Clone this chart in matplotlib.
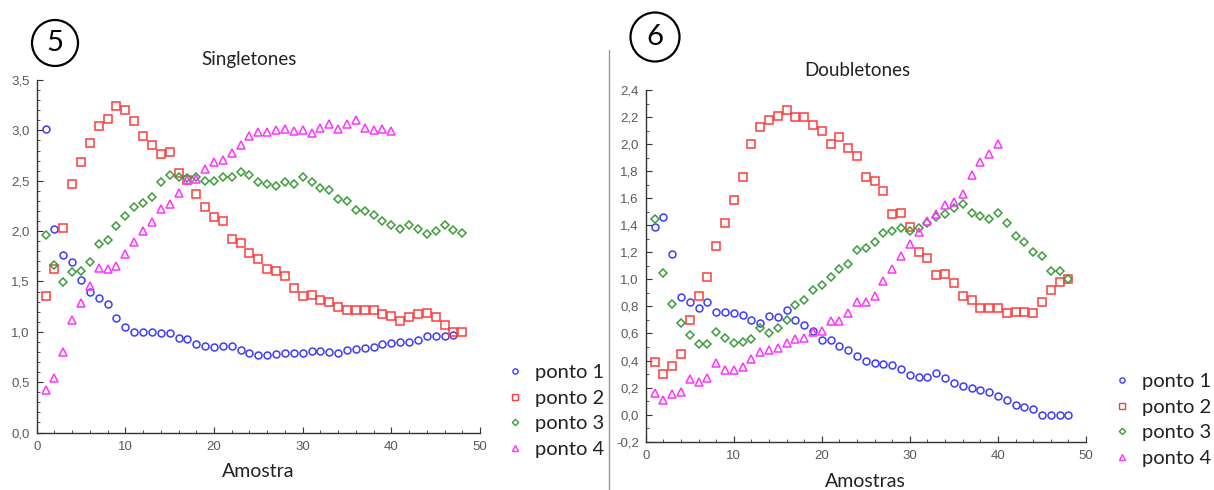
import matplotlib
matplotlib.use("Agg")
import matplotlib.pyplot as plt
from matplotlib.ticker import MultipleLocator, FuncFormatter
from matplotlib.patches import Circle
from matplotlib.lines import Line2D

# ---------------- data ----------------
series_labels = ["ponto 1", "ponto 2", "ponto 3", "ponto 4"]

# Singletones (left panel)
sing_p1 = [3.01, 2.02, 1.76, 1.69, 1.51, 1.40, 1.34, 1.28, 1.14, 1.05,
           1.00, 1.00, 1.00, 0.99, 0.99, 0.94, 0.93, 0.88, 0.86, 0.85,
           0.86, 0.86, 0.82, 0.79, 0.77, 0.77, 0.78, 0.79, 0.79, 0.79,
           0.81, 0.81, 0.80, 0.79, 0.82, 0.83, 0.84, 0.85, 0.88, 0.89,
           0.90, 0.90, 0.92, 0.96, 0.96, 0.96, 0.97]
sing_p2 = [1.36, 1.62, 2.03, 2.47, 2.69, 2.87, 3.04, 3.11, 3.24, 3.20,
           3.09, 2.94, 2.85, 2.77, 2.79, 2.58, 2.51, 2.37, 2.24, 2.14,
           2.10, 1.92, 1.88, 1.78, 1.72, 1.62, 1.60, 1.55, 1.43, 1.36,
           1.37, 1.32, 1.30, 1.25, 1.22, 1.22, 1.22, 1.22, 1.18, 1.16,
           1.11, 1.15, 1.18, 1.19, 1.15, 1.07, 1.00, 1.00]
sing_p3 = [1.96, 1.66, 1.49, 1.59, 1.60, 1.69, 1.87, 1.91, 2.05, 2.15,
           2.24, 2.28, 2.34, 2.49, 2.56, 2.54, 2.53, 2.54, 2.50, 2.50,
           2.54, 2.54, 2.59, 2.56, 2.49, 2.47, 2.45, 2.49, 2.47, 2.54,
           2.49, 2.43, 2.41, 2.32, 2.30, 2.21, 2.20, 2.16, 2.10, 2.06,
           2.02, 2.06, 2.02, 1.97, 2.00, 2.06, 2.01, 1.98]
sing_p4 = [0.42, 0.54, 0.80, 1.12, 1.29, 1.45, 1.63, 1.62, 1.65, 1.77,
           1.89, 2.00, 2.09, 2.22, 2.27, 2.38, 2.51, 2.52, 2.62, 2.69,
           2.71, 2.78, 2.85, 2.94, 2.98, 2.98, 3.00, 3.01, 2.99, 3.00,
           2.97, 3.02, 3.06, 3.01, 3.06, 3.10, 3.02, 3.00, 3.01, 2.99]

# Doubletones (right panel)
doub_p1 = [1.39, 1.46, 1.19, 0.87, 0.83, 0.785, 0.83, 0.76, 0.76, 0.755,
           0.74, 0.70, 0.68, 0.73, 0.72, 0.77, 0.70, 0.66, 0.62, 0.55,
           0.55, 0.51, 0.48, 0.43, 0.40, 0.38, 0.375, 0.365, 0.34, 0.29,
           0.28, 0.28, 0.305, 0.27, 0.235, 0.21, 0.20, 0.18, 0.17, 0.14,
           0.11, 0.07, 0.055, 0.04, 0.0, 0.0, 0.0, 0.0]
doub_p2 = [0.39, 0.30, 0.36, 0.45, 0.70, 0.88, 1.02, 1.25, 1.42, 1.59,
           1.76, 2.00, 2.13, 2.18, 2.21, 2.25, 2.20, 2.20, 2.14, 2.10,
           2.00, 2.05, 1.97, 1.91, 1.76, 1.73, 1.65, 1.48, 1.49, 1.39,
           1.20, 1.16, 1.03, 1.04, 0.97, 0.88, 0.85, 0.79, 0.785, 0.785,
           0.755, 0.76, 0.76, 0.755, 0.83, 0.925, 0.98, 1.00]
doub_p3 = [1.45, 1.05, 0.82, 0.68, 0.59, 0.52, 0.52, 0.61, 0.57, 0.53,
           0.54, 0.56, 0.64, 0.60, 0.64, 0.70, 0.81, 0.85, 0.92, 0.96,
           1.02, 1.08, 1.11, 1.22, 1.23, 1.28, 1.34, 1.36, 1.38, 1.36,
           1.38, 1.42, 1.46, 1.48, 1.53, 1.56, 1.49, 1.47, 1.45, 1.49,
           1.42, 1.32, 1.28, 1.20, 1.17, 1.06, 1.06, 1.00]
doub_p4 = [0.16, 0.11, 0.15, 0.17, 0.26, 0.24, 0.27, 0.38, 0.33, 0.33,
           0.35, 0.41, 0.46, 0.48, 0.49, 0.53, 0.56, 0.57, 0.61, 0.62,
           0.69, 0.69, 0.755, 0.83, 0.83, 0.88, 0.99, 1.08, 1.17, 1.26,
           1.35, 1.43, 1.48, 1.55, 1.57, 1.63, 1.77, 1.87, 1.93, 2.00]

# ---------------- style ----------------
colors = ["#3c3cff", "#ff3c3c", "#3c9c3c", "#ff33ff"]
markers = ["o", "s", "D", "^"]
msizes = [5.0, 6.0, 4.3, 6.0]
TXT = ["Lato", "DejaVu Sans"]
TICKF = ["Liberation Sans", "DejaVu Sans"]

W, H = 1214, 490
fig = plt.figure(figsize=(W / 100, H / 100), dpi=100)


def fx(px):
    return px / W


def fy(py):
    return 1 - py / H


def comma(v, pos):
    s = f"{v:.1f}".replace(".", ",")
    if s == "-0,0":
        s = "0,0"
    return s


def style_axes(ax, ymaj, ymin):
    for s in ("top", "right"):
        ax.spines[s].set_visible(False)
    for s in ("left", "bottom"):
        ax.spines[s].set_color("#333333")
        ax.spines[s].set_linewidth(1.0)
    ax.xaxis.set_major_locator(MultipleLocator(10))
    ax.xaxis.set_minor_locator(MultipleLocator(2))
    ax.yaxis.set_major_locator(MultipleLocator(ymaj))
    ax.yaxis.set_minor_locator(MultipleLocator(ymin))
    ax.yaxis.set_major_formatter(FuncFormatter(comma))
    ax.tick_params(which="both", direction="in", colors="#333333",
                   labelcolor="#5a5a5a", labelsize=9.5)
    ax.tick_params(which="major", length=4, width=0.8)
    ax.tick_params(which="minor", length=2.5, width=0.6)
    ax.tick_params(axis="x", pad=6)
    ax.tick_params(axis="y", pad=5)
    for lab in ax.get_xticklabels() + ax.get_yticklabels():
        lab.set_family(TICKF)


def plot_panel(ax, data):
    handles = []
    for vals, c, m, ms, lab in zip(data, colors, markers, msizes, series_labels):
        xs = list(range(1, len(vals) + 1))
        ax.plot(xs, vals, linestyle="none", marker=m, markersize=ms,
                markerfacecolor="none", markeredgecolor=c, markeredgewidth=1.1,
                label=lab, clip_on=False)
        handles.append(Line2D([], [], linestyle="none", marker=m,
                              markersize=ms * 0.75, markerfacecolor="none",
                              markeredgecolor=c, markeredgewidth=1.0))
    return handles


# ---- left panel ----
axL = fig.add_axes([fx(36.7), fy(432.5), fx(480 - 36.7), (432.5 - 80) / H])
hL = plot_panel(axL, [sing_p1, sing_p2, sing_p3, sing_p4])
axL.set_xlim(0, 50)
axL.set_ylim(0, 3.5)
style_axes(axL, 0.5, 0.1)

# ---- right panel ----
axR = fig.add_axes([fx(645.7), fy(441.7), fx(1086 - 645.7), (441.7 - 90) / H])
hR = plot_panel(axR, [doub_p1, doub_p2, doub_p3, doub_p4])
axR.set_xlim(0, 50)
axR.set_ylim(-0.2, 2.4)
style_axes(axR, 0.2, 0.1)

# titles and axis labels
fig.text(fx(249), fy(60), "Singletones", ha="center", va="center",
         fontsize=13.5, family=TXT, color="#222222")
fig.text(fx(857), fy(70), "Doubletones", ha="center", va="center",
         fontsize=13.5, family=TXT, color="#222222")
fig.text(fx(258), fy(471), "Amostra", ha="center", va="center",
         fontsize=14, family=TXT, color="#222222")
fig.text(fx(865), fy(481), "Amostras", ha="center", va="center",
         fontsize=14, family=TXT, color="#222222")

# legends
legkw = dict(frameon=False, handlelength=0.8, handletextpad=0.6,
             labelspacing=0.42, borderpad=0, borderaxespad=0,
             prop={"family": TXT, "size": 14.5})
legL = fig.legend(hL, series_labels, loc="upper left",
                  bbox_to_anchor=(fx(507), fy(364)), **legkw)
legR = fig.legend(hR, series_labels, loc="upper left",
                  bbox_to_anchor=(fx(1114), fy(373)), **legkw)
for leg in (legL, legR):
    for t in leg.get_texts():
        t.set_color("#222222")

# separator line
fig.add_artist(Line2D([fx(609), fx(609)], [fy(50), fy(490)],
                      color="#999999", linewidth=1.0))

# numbered circles
for cx, cy, r, num in [(55, 43, 23, "5"), (655, 37, 24.5, "6")]:
    fig.add_artist(Circle((cx, H - cy), r, transform=None, fill=False,
                          edgecolor="black", linewidth=1.6))
    fig.text(fx(cx), fy(cy), num, ha="center", va="center",
             fontsize=21, family=TXT, color="black")

fig.savefig("out.png", dpi=100)
